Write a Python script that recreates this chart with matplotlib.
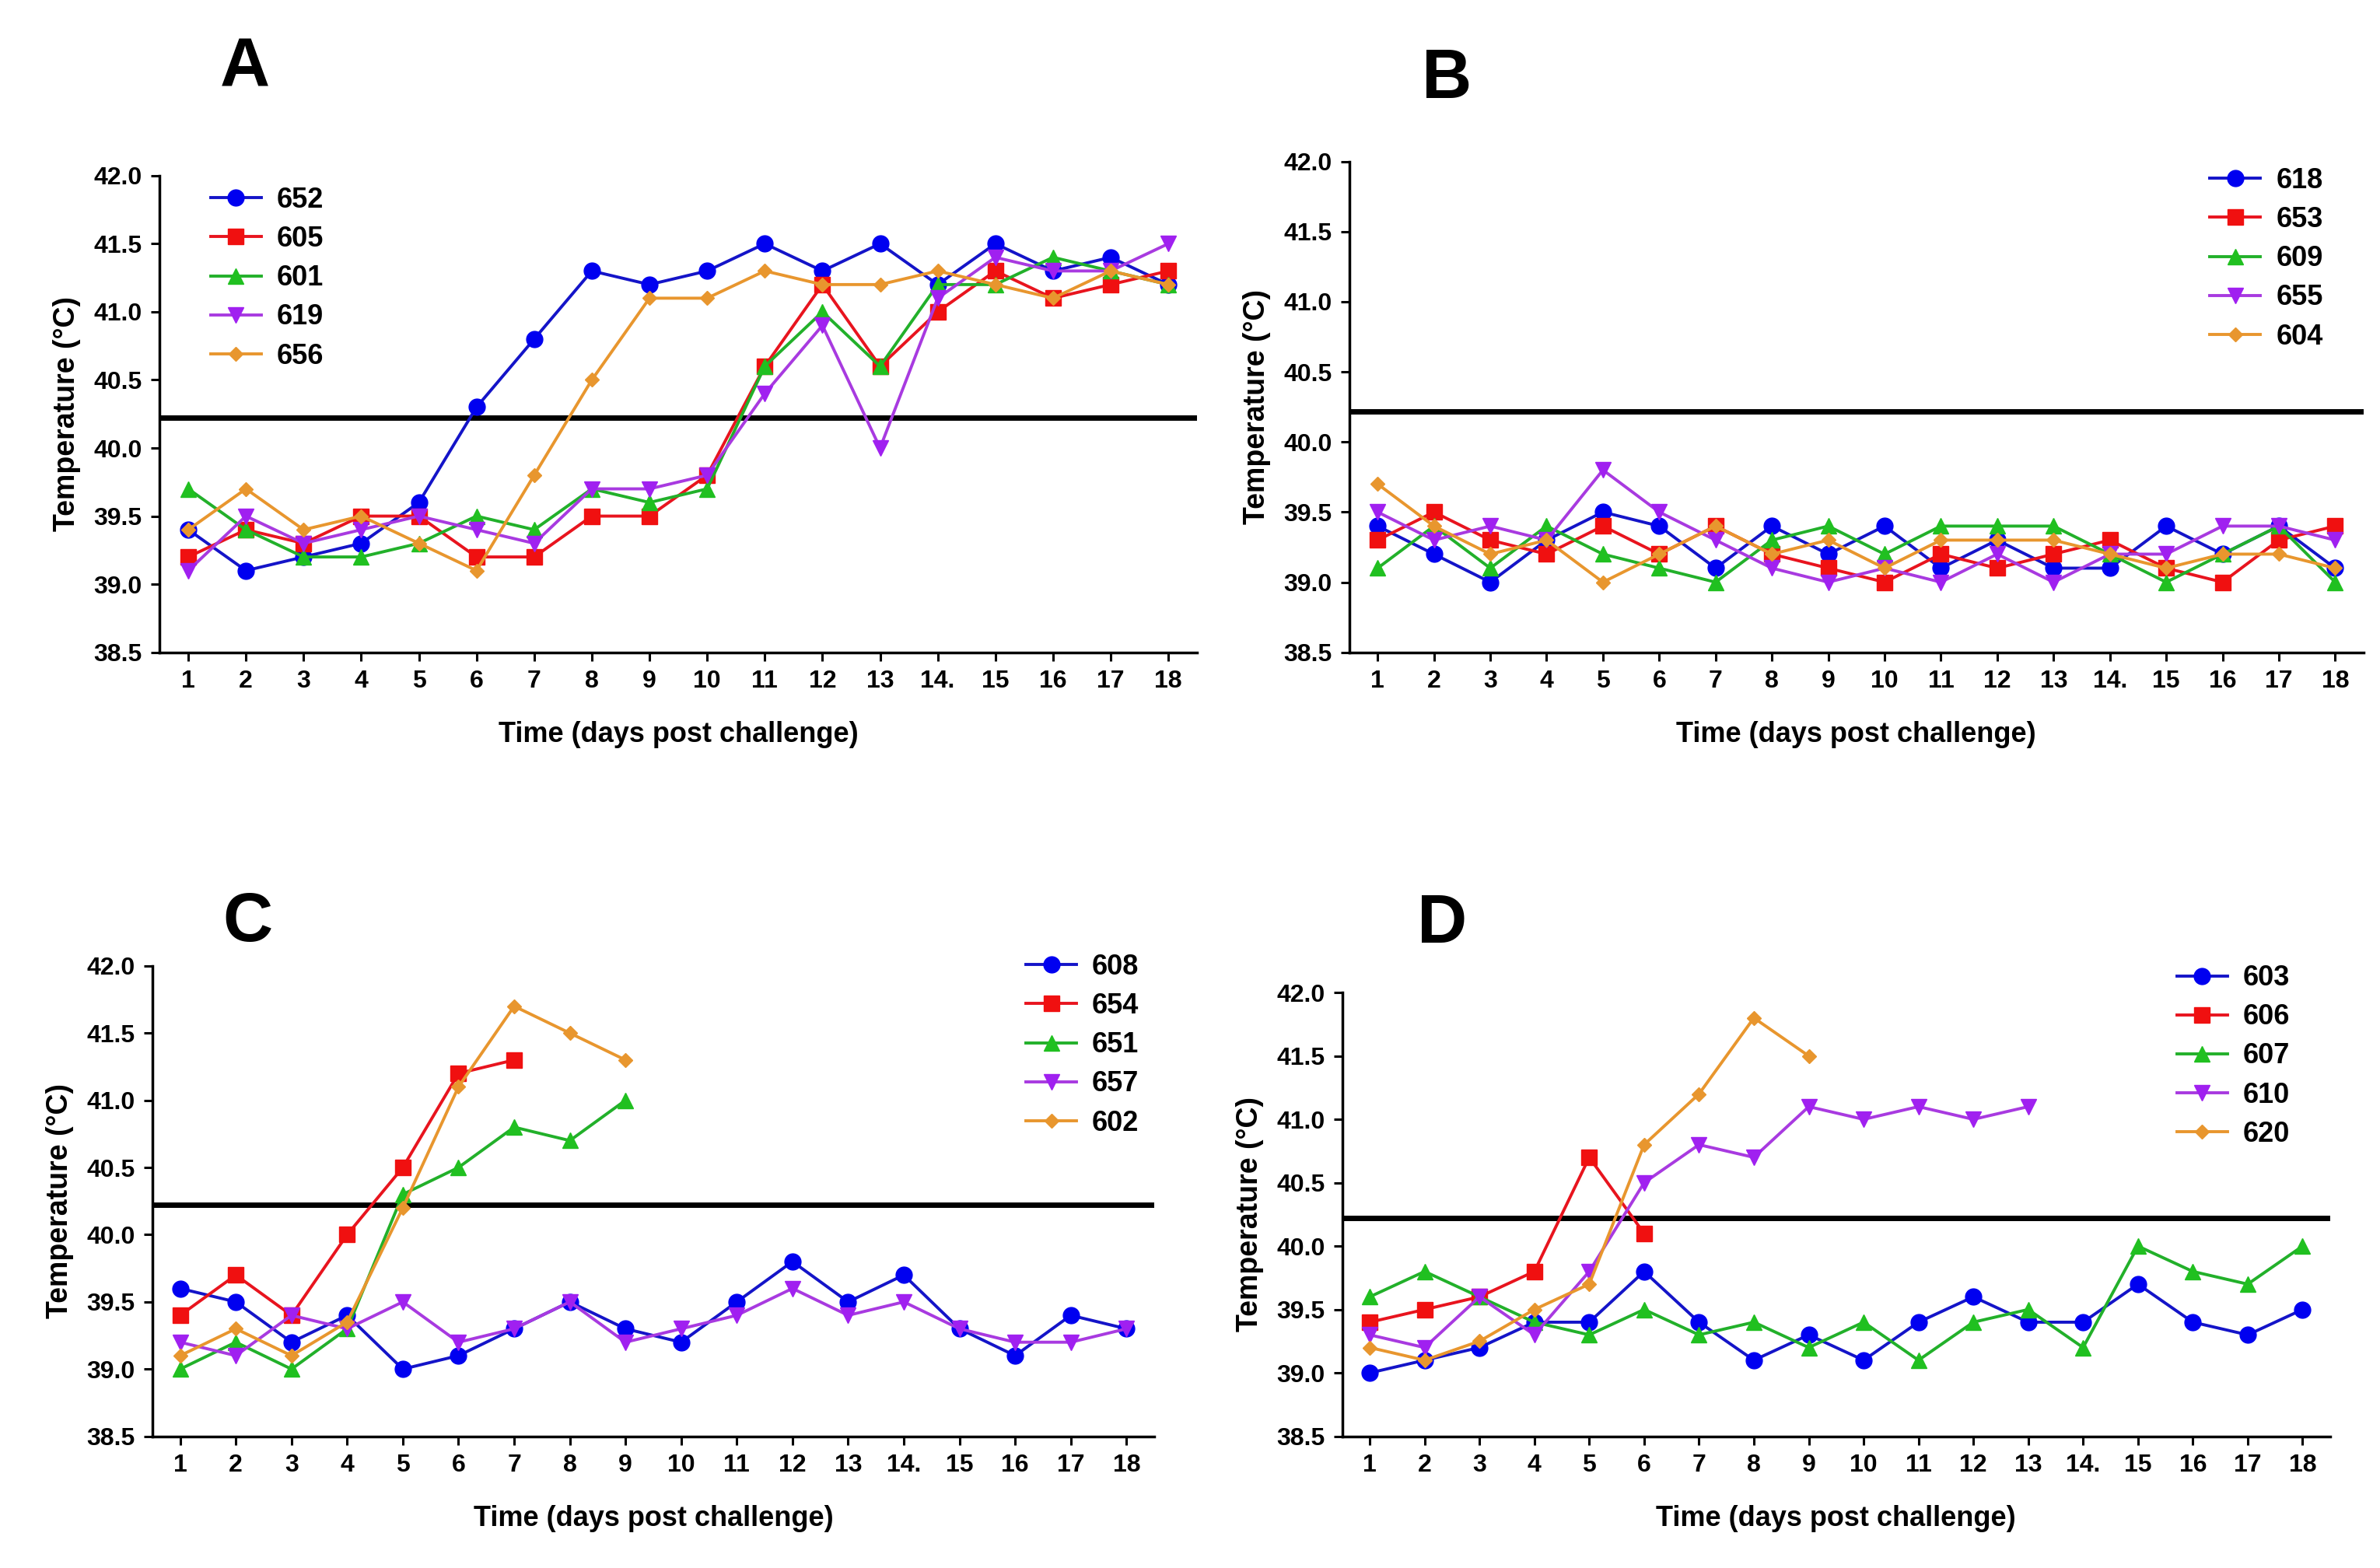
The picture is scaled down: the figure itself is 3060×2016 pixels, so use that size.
import matplotlib
matplotlib.use("Agg")
from matplotlib import pyplot as plt
from matplotlib.ticker import FormatStrFormatter
import numpy as np

plt.rcParams["font.family"] = ["Liberation Sans Narrow", "Liberation Sans", "DejaVu Sans"]
plt.rcParams["font.weight"] = "bold"

days = list(range(1, 19))
day_labels = ["1", "2", "3", "4", "5", "6", "7", "8", "9", "10", "11", "12", "13", "14.",
              "15", "16", "17", "18"]
threshold = 40.22

# panel A
a_names = ["652", "605", "601", "619", "656"]
a_652 = [39.4, 39.1, 39.2, 39.3, 39.6, 40.3, 40.8, 41.3, 41.2, 41.3, 41.5, 41.3, 41.5, 41.2, 41.5, 41.3, 41.4, 41.2]
a_605 = [39.2, 39.4, 39.3, 39.5, 39.5, 39.2, 39.2, 39.5, 39.5, 39.8, 40.6, 41.2, 40.6, 41.0, 41.3, 41.1, 41.2, 41.3]
a_601 = [39.7, 39.4, 39.2, 39.2, 39.3, 39.5, 39.4, 39.7, 39.6, 39.7, 40.6, 41.0, 40.6, 41.2, 41.2, 41.4, 41.3, 41.2]
a_619 = [39.1, 39.5, 39.3, 39.4, 39.5, 39.4, 39.3, 39.7, 39.7, 39.8, 40.4, 40.9, 40.0, 41.1, 41.4, 41.3, 41.3, 41.5]
a_656 = [39.4, 39.7, 39.4, 39.5, 39.3, 39.1, 39.8, 40.5, 41.1, 41.1, 41.3, 41.2, 41.2, 41.3, 41.2, 41.1, 41.3, 41.2]

# panel B
b_names = ["618", "653", "609", "655", "604"]
b_618 = [39.4, 39.2, 39.0, 39.3, 39.5, 39.4, 39.1, 39.4, 39.2, 39.4, 39.1, 39.3, 39.1, 39.1, 39.4, 39.2, 39.4, 39.1]
b_653 = [39.3, 39.5, 39.3, 39.2, 39.4, 39.2, 39.4, 39.2, 39.1, 39.0, 39.2, 39.1, 39.2, 39.3, 39.1, 39.0, 39.3, 39.4]
b_609 = [39.1, 39.4, 39.1, 39.4, 39.2, 39.1, 39.0, 39.3, 39.4, 39.2, 39.4, 39.4, 39.4, 39.2, 39.0, 39.2, 39.4, 39.0]
b_655 = [39.5, 39.3, 39.4, 39.3, 39.8, 39.5, 39.3, 39.1, 39.0, 39.1, 39.0, 39.2, 39.0, 39.2, 39.2, 39.4, 39.4, 39.3]
b_604 = [39.7, 39.4, 39.2, 39.3, 39.0, 39.2, 39.4, 39.2, 39.3, 39.1, 39.3, 39.3, 39.3, 39.2, 39.1, 39.2, 39.2, 39.1]

# panel C
c_names = ["608", "654", "651", "657", "602"]
c_608 = [39.6, 39.5, 39.2, 39.4, 39.0, 39.1, 39.3, 39.5, 39.3, 39.2, 39.5, 39.8, 39.5, 39.7, 39.3, 39.1, 39.4, 39.3]
c_654 = [39.4, 39.7, 39.4, 40.0, 40.5, 41.2, 41.3]
c_651 = [39.0, 39.2, 39.0, 39.3, 40.3, 40.5, 40.8, 40.7, 41.0]
c_657 = [39.2, 39.1, 39.4, 39.3, 39.5, 39.2, 39.3, 39.5, 39.2, 39.3, 39.4, 39.6, 39.4, 39.5, 39.3, 39.2, 39.2, 39.3]
c_602 = [39.1, 39.3, 39.1, 39.35, 40.2, 41.1, 41.7, 41.5, 41.3]

# panel D
d_names = ["603", "606", "607", "610", "620"]
d_603 = [39.0, 39.1, 39.2, 39.4, 39.4, 39.8, 39.4, 39.1, 39.3, 39.1, 39.4, 39.6, 39.4, 39.4, 39.7, 39.4, 39.3, 39.5]
d_606 = [39.4, 39.5, 39.6, 39.8, 40.7, 40.1]
d_607 = [39.6, 39.8, 39.6, 39.4, 39.3, 39.5, 39.3, 39.4, 39.2, 39.4, 39.1, 39.4, 39.5, 39.2, 40.0, 39.8, 39.7, 40.0]
d_610 = [39.3, 39.2, 39.6, 39.3, 39.8, 40.5, 40.8, 40.7, 41.1, 41.0, 41.1, 41.0, 41.1]
d_620 = [39.2, 39.1, 39.25, 39.5, 39.7, 40.8, 41.2, 41.8, 41.5]

colors = ["#1414c8", "#e8141e", "#22b02a", "#a83ae0", "#e8962e"]
mcolors = ["#0000f0", "#f01010", "#20c020", "#a020f0", "#e8962e"]
markers = ["o", "s", "^", "v", "D"]
msizes = [15, 14, 15, 15, 9]

# letter, axes rect, letter position, names, series, legend loc, legend anchor
panels = [
    ("A", [0.067, 0.584, 0.436, 0.304], (0.103, 0.956), a_names,
     [a_652, a_605, a_601, a_619, a_656], "upper left", (0.025, 1.03)),
    ("B", [0.567, 0.584, 0.426, 0.313], (0.608, 0.949), b_names,
     [b_618, b_653, b_609, b_655, b_604], "upper right", (0.985, 1.04)),
    ("C", [0.064, 0.084, 0.421, 0.300], (0.104, 0.411), c_names,
     [c_608, c_654, c_651, c_657, c_602], "upper right", (1.01, 1.08)),
    ("D", [0.564, 0.084, 0.415, 0.283], (0.606, 0.410), d_names,
     [d_603, d_606, d_607, d_610, d_620], "upper right", (0.985, 1.12)),
]

fig = plt.figure(figsize=(30.6, 20.16), dpi=100)

for letter, rect, lpos, names, series, loc, anchor in panels:
    ax = fig.add_axes(rect)
    for i, (name, vals) in enumerate(zip(names, series)):
        ax.plot(days[:len(vals)], vals, color=colors[i], lw=2.8, marker=markers[i],
                ms=msizes[i], mfc=mcolors[i], mec=mcolors[i], label=name, zorder=3)
    ax.axhline(threshold, color="black", lw=5, zorder=2)

    ax.set_xlim(0.5, 18.5)
    ax.set_ylim(38.5, 42.0)
    ax.set_yticks(np.arange(38.5, 42.01, 0.5))
    ax.yaxis.set_major_formatter(FormatStrFormatter("%.1f"))
    ax.set_xticks(days)
    ax.set_xticklabels(day_labels)
    ax.spines["top"].set_visible(False)
    ax.spines["right"].set_visible(False)
    ax.spines["left"].set_linewidth(2.5)
    ax.spines["bottom"].set_linewidth(2.5)
    ax.tick_params(axis="both", direction="out", length=8, width=2.2, labelsize=23, pad=8)
    for lab in ax.get_xticklabels() + ax.get_yticklabels():
        lab.set_fontweight("bold")

    ax.set_xlabel("Time (days post challenge)", fontsize=26, fontweight="bold", labelpad=26)
    ax.set_ylabel("Temperature (°C)", fontsize=27, fontweight="bold", labelpad=12,
                  family=["Liberation Sans", "DejaVu Sans"])

    leg = ax.legend(loc=loc, bbox_to_anchor=anchor, frameon=False, fontsize=26,
                    handlelength=1.8, labelspacing=0.42, handletextpad=0.55)
    for t in leg.get_texts():
        t.set_fontweight("bold")

    fig.text(lpos[0], lpos[1], letter, fontsize=64, fontweight="bold",
             family=["Liberation Sans", "DejaVu Sans"], ha="center", va="center")

fig.savefig("out.png", dpi=100, facecolor="white")
